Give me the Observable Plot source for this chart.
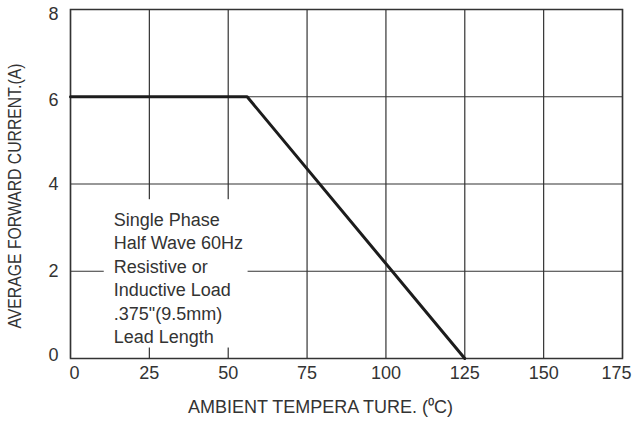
<!DOCTYPE html>
<html>
<head>
<meta charset="utf-8">
<script src="https://cdn.jsdelivr.net/npm/d3@7"></script>
<script src="https://cdn.jsdelivr.net/npm/@observablehq/plot@0.6"></script>
<style>
  html, body { margin: 0; padding: 0; background: #fff; }
  svg { display: block; }
</style>
</head>
<body>
<div id="chart"></div>
<script>
// Data
const temperature = [0, 56, 125];
const current = [6, 6, 0];
const xTicks = [0, 25, 50, 75, 100, 125, 150, 175];
const yTicks = [0, 2, 4, 6, 8];
const xTitle = "AMBIENT TEMPERA TURE. (\u2070C)";
const yTitle = "AVERAGE FORWARD CURRENT.(A)";
const noteLines = ["Single Phase", "Half Wave 60Hz", "Resistive or", "Inductive Load", ".375\"(9.5mm)", "Lead Length"];

const curve = temperature.map((t, i) => ({t, a: current[i]}));
const font = "'Liberation Sans', Arial, Helvetica, sans-serif";
const ink = "#333";

const chart = Plot.plot({
  width: 635,
  height: 421,
  marginLeft: 70,
  marginRight: 13,
  marginTop: 9,
  marginBottom: 63,
  style: {fontFamily: font, color: ink, background: "#fff"},
  x: {domain: [0, 175]},
  y: {domain: [0, 8]},
  marks: [
    Plot.gridX(xTicks, {stroke: ink, strokeOpacity: 1, strokeWidth: 1.2}),
    Plot.gridY(yTicks, {stroke: ink, strokeOpacity: 1, strokeWidth: 1.2}),
    // white label box hiding grid behind the note
    Plot.rect([0], {x1: 10.7, x2: 56.3, y1: 0.24, y2: 3.64, fill: "#fff"}),
    Plot.frame({stroke: ink, strokeWidth: 1.5}),
    Plot.line(curve, {x: "t", y: "a", stroke: "#1c1c1c", strokeWidth: 3}),
    Plot.text([noteLines.join("\n")], {
      x: 13.7, y: 3.43, text: d => d, textAnchor: "start", lineAnchor: "top",
      lineHeight: 1.306, fontSize: 18, fill: ink
    }),
    Plot.axisX(xTicks, {tickSize: 0, tickPadding: 8, fontSize: 18, fill: ink,
      label: xTitle, labelAnchor: "center", labelArrow: "none", labelOffset: 54}),
    Plot.axisY(yTicks, {tickSize: 0, tickPadding: 12, fontSize: 18, fill: ink,
      label: yTitle, labelAnchor: "center", labelArrow: "none", labelOffset: 62})
  ]
});

document.getElementById("chart").appendChild(chart);

// condense y title to match reference length and nudge it down
const yl = chart.querySelector('[aria-label="y-axis label"] text');
if (yl) {
  yl.setAttribute("textLength", "265");
  yl.setAttribute("lengthAdjust", "spacingAndGlyphs");
  yl.setAttribute("dx", "-12");
}
// x title sits left of plot centre in the reference
const xl = chart.querySelector('[aria-label="x-axis label"] text');
if (xl) xl.setAttribute("dx", "-26");

// end tick labels are pulled inward in the reference
const xt = chart.querySelectorAll('[aria-label="x-axis tick label"] text');
if (xt.length) {
  xt[0].setAttribute("dx", "4");
  xt[xt.length - 1].setAttribute("dx", "-6");
}
const yt = chart.querySelectorAll('[aria-label="y-axis tick label"] text');
yt.forEach(t => {
  const v = t.textContent;
  if (v === "8") t.setAttribute("dy", "5");
  if (v === "6") t.setAttribute("dy", "3");
  if (v === "0") t.setAttribute("dy", "-3");
});
</script>
</body>
</html>
